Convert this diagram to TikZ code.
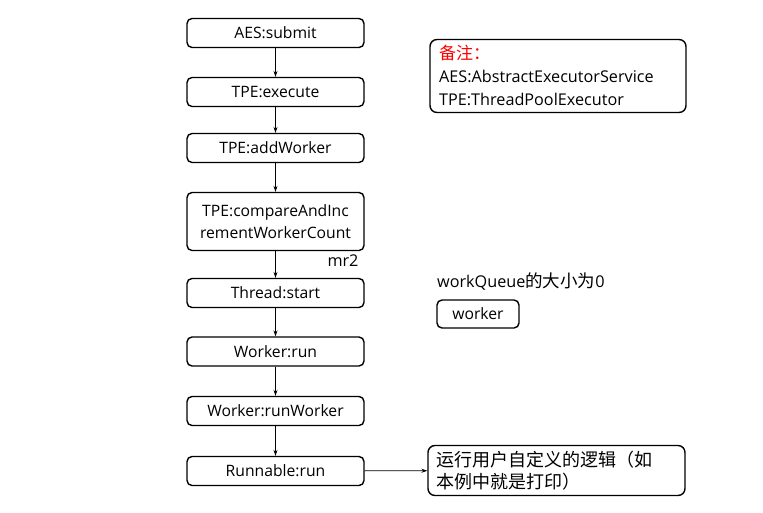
\documentclass[tikz,border=0pt]{standalone}
\usepackage{fontspec}
\setmainfont{Open Sans}
\newfontfamily\cjk{Noto Sans CJK SC}
\usetikzlibrary{arrows.meta}
\tikzset{
  stepbox/.style={draw=black, line width=1.4pt, rounded corners=5pt, minimum width=177pt, minimum height=29pt, inner sep=0pt, align=center, font=\fontsize{15.7}{19}\selectfont},
  conn/.style={draw=black, line width=0.8pt, -{Stealth[length=6pt,width=4pt]}},
  note/.style={draw=black, line width=1.4pt, rounded corners=7pt, inner sep=0pt},
  txt/.style={font=\fontsize{16.2}{19}\selectfont, inner sep=0pt}
}
\begin{document}
\begin{tikzpicture}[x=1pt,y=-1pt]
\useasboundingbox (0,0) rectangle (763,512);
\node[stepbox] (a) at (275.5,33) {AES:submit};
\node[stepbox] (b) at (275.5,92) {TPE:execute};
\node[stepbox] (c) at (275.5,148) {TPE:addWorker};
\node[stepbox, minimum height=58pt, font=\fontsize{15.7}{22}\selectfont] (d) at (275.5,221.5) {TPE:compareAndInc\\rementWorkerCount};
\node[stepbox] (e) at (275.5,293) {Thread:start};
\node[stepbox] (f) at (275.5,351.5) {Worker:run};
\node[stepbox] (g) at (275.5,411) {Worker:runWorker};
\node[stepbox] (h) at (275.5,471) {Runnable:run};
\draw[conn] (a) -- (b);
\draw[conn] (b) -- (c);
\draw[conn] (c) -- (d);
\draw[conn] (d) -- (e);
\draw[conn] (e) -- (f);
\draw[conn] (f) -- (g);
\draw[conn] (g) -- (h);
\node[txt] (mr) at (343,261) {mr2};
% note box
\node[note, minimum width=256pt, minimum height=73pt] (n) at (558,76) {};
\node[txt, anchor=west, text=red, font=\cjk\fontsize{17}{19}\selectfont] (n1) at (439,53) {备注：};
\node[txt, anchor=west] (n2) at (439,76.5) {AES:AbstractExecutorService};
\node[txt, anchor=west] (n3) at (439,99) {TPE:ThreadPoolExecutor};
% workqueue
\node[txt, anchor=west] (wq) at (437,281) {workQueue{\cjk\fontsize{17.5}{19}\selectfont 的大小为}0};
\node[stepbox, minimum width=82pt, minimum height=28pt] (w) at (478,314) {worker};
% bottom box
\node[note, minimum width=257pt, minimum height=50pt] (r) at (556.5,470.5) {};
\node[anchor=west, inner sep=0pt, align=left, font=\cjk\fontsize{18}{22}\selectfont] (rt) at (436,471) {运行用户自定义的逻辑（如\\本例中就是打印）};
\draw[conn] (h) -- (r);
\end{tikzpicture}
\end{document}
